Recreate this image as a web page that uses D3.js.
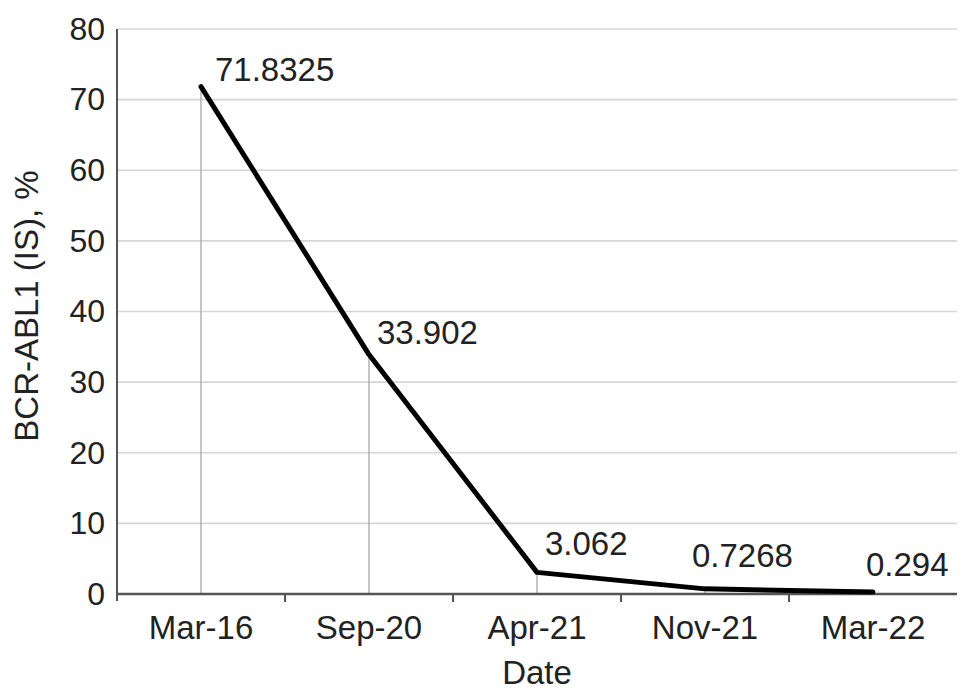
<!DOCTYPE html>
<html>
<head>
<meta charset="utf-8">
<script src="https://cdn.jsdelivr.net/npm/d3@7"></script>
<style>
  html, body { margin: 0; padding: 0; background: #fff; }
  svg { display: block; font-family: "Liberation Sans", Arial, Helvetica, sans-serif; }
</style>
</head>
<body>
<svg id="chart" width="969" height="697"></svg>
<script>
// Data
const categories = ["Mar-16", "Sep-20", "Apr-21", "Nov-21", "Mar-22"];
const values = [71.8325, 33.902, 3.062, 0.7268, 0.294];
const valueLabels = ["71.8325", "33.902", "3.062", "0.7268", "0.294"];
const yTicks = [0, 10, 20, 30, 40, 50, 60, 70, 80];

// Layout (label nudges, in px)
const labelDx = [14, 8, 8, -13, -7];
const labelDy = [-6, -11, -17, -22, -16];

const svg = d3.select("#chart");
const mLeft = 117, mRight = 957, mTop = 29, mBottom = 594;

const x = d3.scaleBand().domain(categories).range([mLeft, mRight]);
const y = d3.scaleLinear().domain([0, 80]).range([mBottom, mTop]);
const cx = d => x(d) + x.bandwidth() / 2;

// gridlines
svg.append("g").selectAll("line").data(yTicks.filter(t => t > 0)).join("line")
  .attr("x1", mLeft + 1).attr("x2", mRight)
  .attr("y1", d => y(d)).attr("y2", d => y(d))
  .attr("stroke", "#d6d6d6").attr("stroke-width", 1.6);

// drop lines
svg.append("g").selectAll("line").data(categories).join("line")
  .attr("x1", d => cx(d)).attr("x2", d => cx(d))
  .attr("y1", (d, i) => y(values[i])).attr("y2", mBottom)
  .attr("stroke", "#a8a8a8").attr("stroke-width", 1.3);

// y axis
const yAxis = d3.axisLeft(y).tickValues(yTicks).tickSize(0).tickPadding(12);
const gy = svg.append("g").attr("transform", `translate(${mLeft},0)`).call(yAxis);
gy.select(".domain").remove();
gy.selectAll("text").attr("font-size", 32).attr("fill", "#222").attr("font-family", "inherit");
svg.append("line").attr("x1", mLeft).attr("x2", mLeft).attr("y1", mTop).attr("y2", mBottom + 7)
  .attr("stroke", "#555").attr("stroke-width", 2);

// x axis
svg.append("line").attr("x1", mLeft).attr("x2", mRight).attr("y1", mBottom).attr("y2", mBottom)
  .attr("stroke", "#555").attr("stroke-width", 2.5);
const boundaries = categories.slice(1).map(c => x(c));
svg.append("g").selectAll("line").data(boundaries).join("line")
  .attr("x1", d => d).attr("x2", d => d).attr("y1", mBottom).attr("y2", mBottom + 8)
  .attr("stroke", "#555").attr("stroke-width", 2);
svg.append("g").selectAll("text").data(categories).join("text")
  .attr("x", d => cx(d)).attr("y", 639)
  .attr("text-anchor", "middle").attr("font-size", 33).attr("fill", "#222")
  .text(d => d);

// line
const line = d3.line().x(d => cx(d.c)).y(d => y(d.v));
const pts = categories.map((c, i) => ({ c, v: values[i] }));
svg.append("path").datum(pts).attr("d", line)
  .attr("fill", "none").attr("stroke", "#000").attr("stroke-width", 5)
  .attr("stroke-linejoin", "round").attr("stroke-linecap", "round");

// data labels
svg.append("g").selectAll("text").data(pts).join("text")
  .attr("x", (d, i) => cx(d.c) + labelDx[i])
  .attr("y", (d, i) => y(d.v) + labelDy[i])
  .attr("font-size", 33).attr("fill", "#222")
  .text((d, i) => valueLabels[i]);

// axis titles
svg.append("text").attr("x", (mLeft + mRight) / 2).attr("y", 684)
  .attr("text-anchor", "middle").attr("font-size", 33).attr("fill", "#222").text("Date");
svg.append("text").attr("transform", "translate(38,306) rotate(-90)")
  .attr("text-anchor", "middle").attr("font-size", 33).attr("fill", "#222").text("BCR-ABL1 (IS), %");
</script>
</body>
</html>
